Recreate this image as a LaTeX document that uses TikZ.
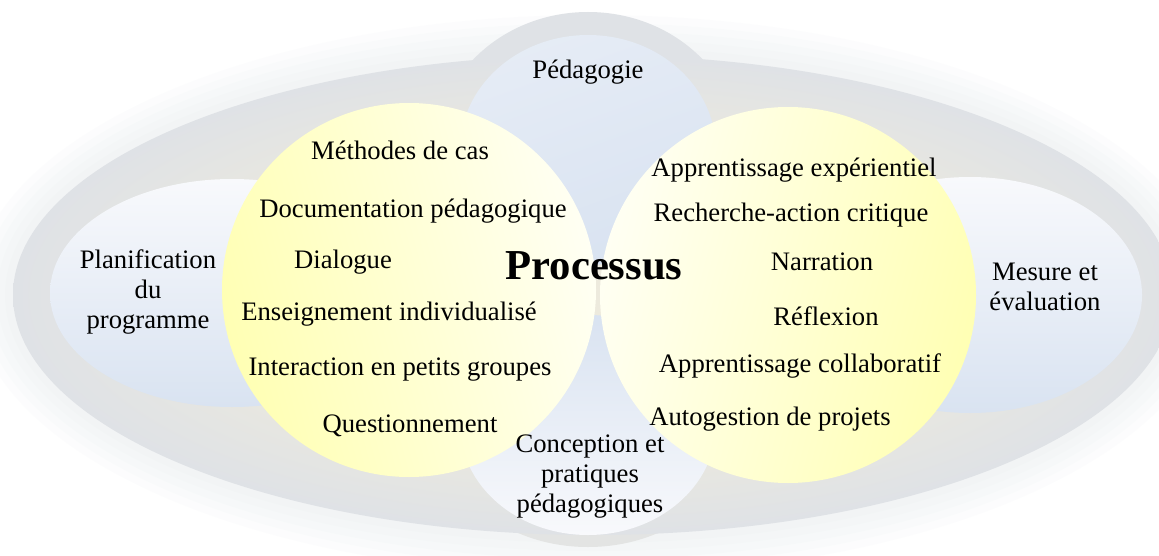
\documentclass[tikz,border=0pt]{standalone}
\usepackage{fontspec}
\setmainfont{Liberation Serif}
\usetikzlibrary{fadings}

\definecolor{bandgray}{RGB}{223,226,230}
\definecolor{bandbeige}{RGB}{237,234,221}
\definecolor{glowblue}{RGB}{200,208,222}
\definecolor{bluelight}{RGB}{248,249,252}
\definecolor{bluedark}{RGB}{217,227,241}
\definecolor{yellowdeep}{RGB}{255,255,180}
\definecolor{yellowpale}{RGB}{255,255,243}

\pgfdeclareradialshading{bandshade}{\pgfpoint{0bp}{0bp}}{color(0bp)=(bandbeige); color(14bp)=(bandbeige); color(25bp)=(bandgray); color(50bp)=(bandgray)}

\begin{document}
\begin{tikzpicture}[x=0.75pt,y=0.75pt,yscale=-1,xscale=1,
  lbl/.style={font=\fontsize{20}{22.5}\selectfont, align=center, inner sep=0pt},
  title/.style={font=\fontsize{32}{36}\selectfont\bfseries, inner sep=0pt}]
%set diagram to 1159 x 556
\fill[white] (0,0) rectangle (1159,556);
\useasboundingbox (0,0) rectangle (1159,556);

%Shape: Glow around the band
\foreach \g in {8,16,24,32,40}
  \fill[glowblue, fill opacity=0.045] (593,295) ellipse ({580+\g} and {240+\g});
%Shape: Bumps of the band
\fill[bandgray] (588,150) ellipse (152 and 138);
\fill[bandgray!70!bandbeige] (588,425) ellipse (150 and 122);
%Shape: Band
\shade[shading=bandshade] (593,295) ellipse (580 and 240);

%Shape: Ellipse (top)
\shade[top color=bluelight!40!bluedark, bottom color=bluedark, shading angle=20] (588,150) ellipse (128 and 115);
%Shape: Ellipse (bottom)
\shade[top color=bluedark, bottom color=bluelight] (588,425) ellipse (128 and 110);
%Shape: Ellipse (left)
\shade[top color=bluelight, bottom color=bluedark] (232,293) ellipse (182 and 114);
%Shape: Ellipse (right)
\shade[top color=bluelight, bottom color=bluedark] (970,295) ellipse (172 and 118);

%Shape: Circle (left)
\shade[left color=yellowdeep, right color=yellowpale, shading angle=105] (409,290) circle (187);
%Shape: Circle (right)
\shade[left color=yellowpale, right color=yellowdeep, shading angle=75] (788,295) circle (188);

% Text Node
\draw (588,72) node[lbl] (pedagogie) {Pédagogie};
% Text Node
\draw (148,292) node[lbl] (planification) {Planification\\du\\programme};
% Text Node
\draw (1045,287) node[lbl] (mesure) {Mesure et\\évaluation};
% Text Node
\draw (590,477) node[lbl] (conception) {Conception et\\pratiques\\pédagogiques};
% Text Node
\draw (594,266) node[title] (processus) {Processus};

% Text Node
\draw (400,150) node[lbl] (methodes) {Méthodes de cas};
% Text Node
\draw (413,211) node[lbl] (documentation) {Documentation pédagogique};
% Text Node
\draw (343,262) node[lbl] (dialogue) {Dialogue};
% Text Node
\draw (389,314) node[lbl] (enseignement) {Enseignement individualisé};
% Text Node
\draw (400,370) node[lbl] (interaction) {Interaction en petits groupes};
% Text Node
\draw (410,426) node[lbl] (questionnement) {Questionnement};

% Text Node
\draw (794,170) node[lbl] (experientiel) {Apprentissage expérientiel};
% Text Node
\draw (791,215) node[lbl] (recherche) {Recherche-action critique};
% Text Node
\draw (822,262) node[lbl] (narration) {Narration};
% Text Node
\draw (826,316) node[lbl] (reflexion) {Réflexion};
% Text Node
\draw (800,366) node[lbl] (collaboratif) {Apprentissage collaboratif};
% Text Node
\draw (770,419) node[lbl] (autogestion) {Autogestion de projets};

\end{tikzpicture}
\end{document}
